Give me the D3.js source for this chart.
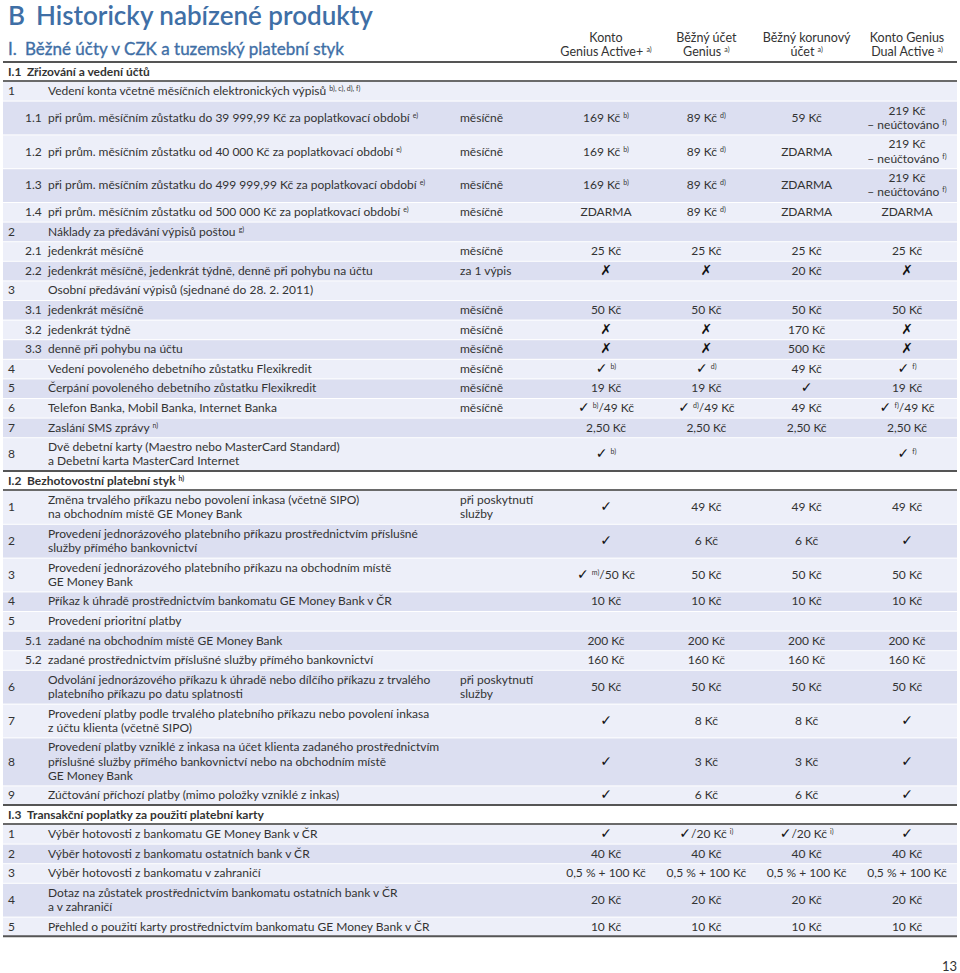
<!DOCTYPE html>
<html>
<head>
<meta charset="utf-8">
<script src="https://cdn.jsdelivr.net/npm/d3@7"></script>
<style>
  body { margin: 0; background: #fff; }
  text { font-family: Lato, "Noto Sans", sans-serif; fill: #333; }
  .title { fill: #3f6fa6; }
  .sym { font-family: "DejaVu Sans", sans-serif; }
</style>
</head>
<body>
<div class="chart"></div>
<script>
// Column headers ("^" toggles superscript, "\n" breaks a line)
var columns = ["Konto\nGenius Active+ ^a)", "Běžný účet\nGenius ^a)", "Běžný korunový\núčet ^a)", "Konto Genius\nDual Active ^a)"];

var sectionIds = ["I.1", "I.2", "I.3"];
var sectionTitles = ["Zřizování a vedení účtů", "Bezhotovostní platební styk ^h)", "Transakční poplatky za použití platební karty"];

// rows: [number, sub number, label, frequency, values per column]
var rows1 = [
  ["1", "", "Vedení konta včetně měsíčních elektronických výpisů ^b), c), d), f)", "", []],
  ["", "1.1", "při prům. měsíčním zůstatku do 39 999,99 Kč za poplatkovací období ^e)", "měsíčně", ["169 Kč ^b)", "89 Kč ^d)", "59 Kč", "219 Kč\n– neúčtováno ^f)"]],
  ["", "1.2", "při prům. měsíčním zůstatku od 40 000 Kč za poplatkovací období ^e)", "měsíčně", ["169 Kč ^b)", "89 Kč ^d)", "ZDARMA", "219 Kč\n– neúčtováno ^f)"]],
  ["", "1.3", "při prům. měsíčním zůstatku do 499 999,99 Kč za poplatkovací období ^e)", "měsíčně", ["169 Kč ^b)", "89 Kč ^d)", "ZDARMA", "219 Kč\n– neúčtováno ^f)"]],
  ["", "1.4", "při prům. měsíčním zůstatku od 500 000 Kč za poplatkovací období ^e)", "měsíčně", ["ZDARMA", "89 Kč ^d)", "ZDARMA", "ZDARMA"]],
  ["2", "", "Náklady za předávání výpisů poštou ^g)", "", []],
  ["", "2.1", "jedenkrát měsíčně", "měsíčně", ["25 Kč", "25 Kč", "25 Kč", "25 Kč"]],
  ["", "2.2", "jedenkrát měsíčně, jedenkrát týdně, denně při pohybu na účtu", "za 1 výpis", ["✗", "✗", "20 Kč", "✗"]],
  ["3", "", "Osobní předávání výpisů (sjednané do 28. 2. 2011)", "", []],
  ["", "3.1", "jedenkrát měsíčně", "měsíčně", ["50 Kč", "50 Kč", "50 Kč", "50 Kč"]],
  ["", "3.2", "jedenkrát týdně", "měsíčně", ["✗", "✗", "170 Kč", "✗"]],
  ["", "3.3", "denně při pohybu na účtu", "měsíčně", ["✗", "✗", "500 Kč", "✗"]],
  ["4", "", "Vedení povoleného debetního zůstatku Flexikredit", "měsíčně", ["✓ ^b)", "✓ ^d)", "49 Kč", "✓ ^f)"]],
  ["5", "", "Čerpání povoleného debetního zůstatku Flexikredit", "měsíčně", ["19 Kč", "19 Kč", "✓", "19 Kč"]],
  ["6", "", "Telefon Banka, Mobil Banka, Internet Banka", "měsíčně", ["✓ ^b)^/49 Kč", "✓ ^d)^/49 Kč", "49 Kč", "✓ ^f)^/49 Kč"]],
  ["7", "", "Zaslání SMS zprávy ^n)", "", ["2,50 Kč", "2,50 Kč", "2,50 Kč", "2,50 Kč"]],
  ["8", "", "Dvě debetní karty (Maestro nebo MasterCard Standard)\na Debetní karta MasterCard Internet", "", ["✓ ^b)", "", "", "✓ ^f)"]]
];

var rows2 = [
  ["1", "", "Změna trvalého příkazu nebo povolení inkasa (včetně SIPO)\nna obchodním místě GE Money Bank", "při poskytnutí\nslužby", ["✓", "49 Kč", "49 Kč", "49 Kč"]],
  ["2", "", "Provedení jednorázového platebního příkazu prostřednictvím příslušné\nslužby přímého bankovnictví", "", ["✓", "6 Kč", "6 Kč", "✓"]],
  ["3", "", "Provedení jednorázového platebního příkazu na obchodním místě\nGE Money Bank", "", ["✓ ^m)^/50 Kč", "50 Kč", "50 Kč", "50 Kč"]],
  ["4", "", "Příkaz k úhradě prostřednictvím bankomatu GE Money Bank v ČR", "", ["10 Kč", "10 Kč", "10 Kč", "10 Kč"]],
  ["5", "", "Provedení prioritní platby", "", []],
  ["", "5.1", "zadané na obchodním místě GE Money Bank", "", ["200 Kč", "200 Kč", "200 Kč", "200 Kč"]],
  ["", "5.2", "zadané prostřednictvím příslušné služby přímého bankovnictví", "", ["160 Kč", "160 Kč", "160 Kč", "160 Kč"]],
  ["6", "", "Odvolání jednorázového příkazu k úhradě nebo dílčího příkazu z trvalého\nplatebního příkazu po datu splatnosti", "při poskytnutí\nslužby", ["50 Kč", "50 Kč", "50 Kč", "50 Kč"]],
  ["7", "", "Provedení platby podle trvalého platebního příkazu nebo povolení inkasa\nz účtu klienta (včetně SIPO)", "", ["✓", "8 Kč", "8 Kč", "✓"]],
  ["8", "", "Provedení platby vzniklé z inkasa na účet klienta zadaného prostřednictvím\npříslušné služby přímého bankovnictví nebo na obchodním místě\nGE Money Bank", "", ["✓", "3 Kč", "3 Kč", "✓"]],
  ["9", "", "Zúčtování příchozí platby (mimo položky vzniklé z inkas)", "", ["✓", "6 Kč", "6 Kč", "✓"]]
];

var rows3 = [
  ["1", "", "Výběr hotovosti z bankomatu GE Money Bank v ČR", "", ["✓", "✓/20 Kč ^i)", "✓/20 Kč ^i)", "✓"]],
  ["2", "", "Výběr hotovosti z bankomatu ostatních bank v ČR", "", ["40 Kč", "40 Kč", "40 Kč", "40 Kč"]],
  ["3", "", "Výběr hotovosti z bankomatu v zahraničí", "", ["0,5 % + 100 Kč", "0,5 % + 100 Kč", "0,5 % + 100 Kč", "0,5 % + 100 Kč"]],
  ["4", "", "Dotaz na zůstatek prostřednictvím bankomatu ostatních bank v ČR\na v zahraničí", "", ["20 Kč", "20 Kč", "20 Kč", "20 Kč"]],
  ["5", "", "Přehled o použití karty prostřednictvím bankomatu GE Money Bank v ČR", "", ["10 Kč", "10 Kč", "10 Kč", "10 Kč"]]
];

var sections = [rows1, rows2, rows3];

var svgWidth = 960;
var svgHeight = 973;
var left = 3, right = 957;
var lineH = 14.2;
var headH = 19;

var svg = d3.select(".chart").append("svg")
  .attr("width", svgWidth)
  .attr("height", svgHeight);

// value columns are placed with a point scale
var xCol = d3.scalePoint().domain(d3.range(columns.length)).range([606, 907]);

// write a string with "^" superscripts into a text element
function richText(sel, str) {
  var parts = str.split("^");
  var raised = false;
  parts.forEach(function(p, i) {
    if (p === "") return;
    var t = sel.append("tspan").text(p);
    if (i % 2 === 1) {
      t.attr("font-size", 7).attr("dy", raised ? 0 : -4);
      raised = true;
    } else {
      if (raised) t.attr("dy", 4);
      raised = false;
      if (/[✓✗]/.test(p)) {
        // only the symbol gets DejaVu
        t.text(null);
        p.split(/([✓✗])/).forEach(function(q) {
          if (q === "") return;
          var s = t.append("tspan").text(q);
          if (q === "✓" || q === "✗") s.attr("class", "sym").attr("font-size", 14).attr("fill", "#111");
        });
      }
    }
  });
}

// multi-line block centered vertically at cy
function block(g, str, x, cy, anchor, extra) {
  var lines = str.split("\n");
  lines.forEach(function(l, i) {
    var t = g.append("text")
      .attr("x", x)
      .attr("y", cy + (i - (lines.length - 1) / 2) * lineH)
      .attr("dy", "0.35em")
      .attr("text-anchor", anchor)
      .attr("font-size", 12);
    if (extra) extra(t);
    richText(t, l);
  });
}

// Title
svg.append("text").attr("class", "title").attr("x", 8).attr("y", 25)
  .attr("font-size", 26).attr("font-weight", 600).text("B");
svg.append("text").attr("class", "title").attr("x", 36).attr("y", 25)
  .attr("font-size", 26).attr("font-weight", 600).text("Historicky nabízené produkty");
svg.append("text").attr("class", "title").attr("x", 8).attr("y", 55)
  .attr("font-size", 17).attr("stroke", "#3f6fa6").attr("stroke-width", 0.35).text("I.");
svg.append("text").attr("class", "title").attr("x", 25).attr("y", 55)
  .attr("font-size", 17).attr("stroke", "#3f6fa6").attr("stroke-width", 0.35)
  .text("Běžné účty v CZK a tuzemský platební styk");

// Column headers
columns.forEach(function(c, i) {
  block(svg, c, xCol(i), 45, "middle", function(t) { t.attr("font-size", 12.5).attr("fill", "#222"); });
});

var y = 62;
sections.forEach(function(rows, si) {
  // rule and section header
  svg.append("line").attr("x1", left).attr("x2", right).attr("y1", y).attr("y2", y)
    .attr("stroke", "#555").attr("stroke-width", 2);
  svg.append("text").attr("x", 8).attr("y", y + headH / 2).attr("dy", "0.35em")
    .attr("font-size", 12).attr("font-weight", 700).attr("fill", "#222").text(sectionIds[si]);
  var st = svg.append("text").attr("x", 27).attr("y", y + headH / 2).attr("dy", "0.35em")
    .attr("font-size", 12).attr("font-weight", 700).attr("fill", "#222");
  richText(st, sectionTitles[si]);
  y += headH;
  svg.append("line").attr("x1", left).attr("x2", right).attr("y1", y).attr("y2", y)
    .attr("stroke", "#6a6a6a").attr("stroke-width", 2);

  rows.forEach(function(r, ri) {
    var nLines = d3.max([r[2], r[3]].concat(r[4]).map(function(s) { return s.split("\n").length; }));
    var h = 5.4 + nLines * lineH;
    var g = svg.append("g");
    g.append("rect").attr("x", left).attr("y", y + 1).attr("width", right - left).attr("height", h - 1)
      .attr("fill", ri % 2 === 0 ? "#edeff9" : "#dcdff1");
    var cy = y + h / 2;
    if (r[0]) block(g, r[0], 8, cy, "start");
    if (r[1]) block(g, r[1], 25, cy, "start");
    block(g, r[2], 48, cy, "start");
    if (r[3]) block(g, r[3], 460, cy, "start");
    r[4].forEach(function(v, ci) {
      if (v) block(g, v, xCol(ci), cy, "middle");
    });
    y += h;
  });
});

svg.append("line").attr("x1", left).attr("x2", right).attr("y1", y).attr("y2", y)
  .attr("stroke", "#555").attr("stroke-width", 2);

// page number
svg.append("text").attr("x", 957).attr("y", 971).attr("text-anchor", "end")
  .attr("font-size", 13).text("13");
</script>
</body>
</html>
